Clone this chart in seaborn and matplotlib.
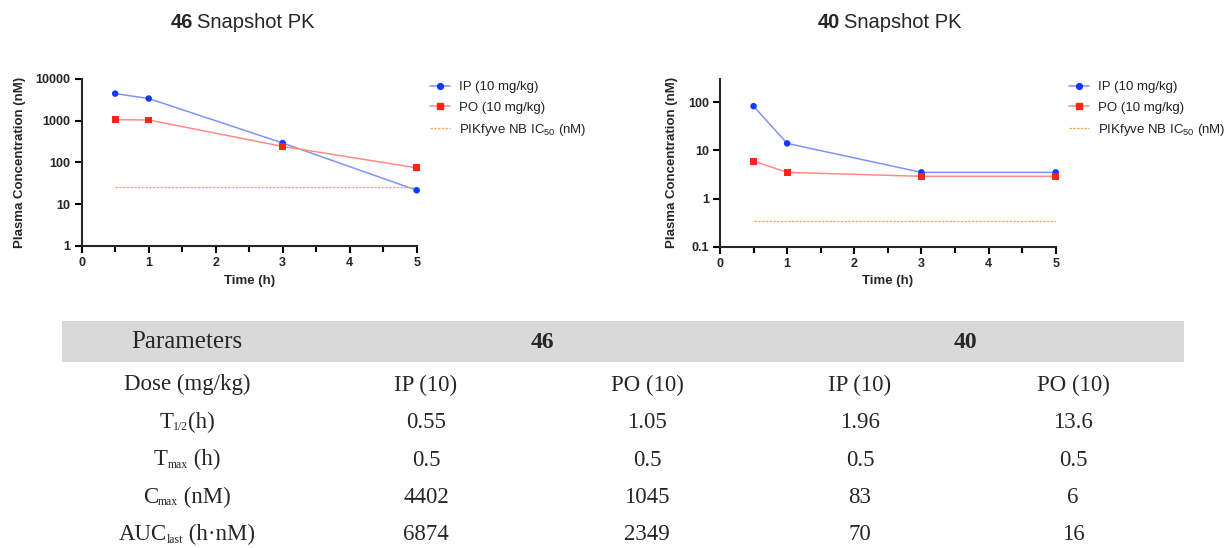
import matplotlib
matplotlib.use("Agg")
import matplotlib.pyplot as plt
import seaborn as sns
from matplotlib.lines import Line2D
from matplotlib.patches import Rectangle
from matplotlib.ticker import NullLocator, MultipleLocator

# --- data ---
time_h = [0.5, 1, 3, 5]

c46_ip = [4402, 3360, 290, 21.5]
c46_po = [1045, 1030, 240, 74]
c46_ic50 = 25.5

c40_ip = [83, 14, 3.5, 3.5]
c40_po = [6, 3.5, 2.9, 2.9]
c40_ic50 = 0.35

y46_ticks = [1, 10, 100, 1000, 10000]
y40_ticks = [0.1, 1, 10, 100]
x_ticks = [0, 1, 2, 3, 4, 5]

# table: row labels as (text, is_subscript) pieces
param_labels = [
    [("Dose (mg/kg)", False)],
    [("T", False), ("1/2", True), ("(h)", False)],
    [("T", False), ("max", True), (" (h)", False)],
    [("C", False), ("max", True), (" (nM)", False)],
    [("AUC", False), ("last", True), (" (h·nM)", False)],
]
col_46_ip = ["IP (10)", "0.55", "0.5", "4402", "6874"]
col_46_po = ["PO (10)", "1.05", "0.5", "1045", "2349"]
col_40_ip = ["IP (10)", "1.96", "0.5", "83", "70"]
col_40_po = ["PO (10)", "13.6", "0.5", "6", "16"]

# colours
ip_line, ip_mark = "#7f93fb", "#1238ff"
po_line, po_mark = "#ff8c84", "#ff2418"
ic_col = "#f7a94e"

sns.set_style("ticks")
plt.rcParams["font.family"] = ["Liberation Sans", "DejaVu Sans"]
plt.rcParams["axes.linewidth"] = 1.5

W, H = 1228, 548
fig = plt.figure(figsize=(W / 100, H / 100), dpi=100)


def px_axes(x0, x1, ytop, ybot):
    return fig.add_axes([x0 / W, (H - ybot) / H, (x1 - x0) / W, (ybot - ytop) / H])


def pk_panel(ax, ip, po, ic50, yticks, ylim):
    sns.lineplot(x=time_h, y=ip, color=ip_line, lw=1.1, ax=ax)
    sns.lineplot(x=time_h, y=po, color=po_line, lw=1.1, ax=ax)
    sns.lineplot(x=[time_h[0], time_h[-1]], y=[ic50, ic50], color=ic_col,
                 lw=0.9, linestyle=(0, (2, 1)), ax=ax)
    sns.scatterplot(x=time_h, y=ip, color=ip_mark, marker="o", s=22,
                    edgecolor="none", ax=ax, zorder=3, clip_on=False)
    sns.scatterplot(x=time_h, y=po, color=po_mark, marker="s", s=24,
                    edgecolor="none", ax=ax, zorder=3, clip_on=False)
    ax.set_yscale("log")
    ax.set_ylim(*ylim)
    ax.set_xlim(0, 5)
    ax.set_yticks(yticks, [f"{t:g}" for t in yticks])
    ax.yaxis.set_minor_locator(NullLocator())
    ax.set_xticks(x_ticks)
    ax.xaxis.set_minor_locator(MultipleLocator(0.5))
    ax.tick_params(which="both", direction="out", width=1.5, color="black")
    ax.tick_params(which="major", length=5, labelsize=9, pad=3)
    ax.tick_params(which="minor", length=4)
    for lab in ax.get_xticklabels() + ax.get_yticklabels():
        lab.set_fontweight("bold")
    ax.set_xlabel("Time (h)", fontsize=9.5, fontweight="bold", labelpad=4)
    ax.set_ylabel("Plasma Concentration (nM)", fontsize=9.5, fontweight="bold", labelpad=7)
    sns.despine(ax=ax)


def pk_legend(ax, x_px, top_px):
    handles = [
        Line2D([], [], color=ip_line, lw=1.1, marker="o", ms=4.2, mfc=ip_mark, mec=ip_mark),
        Line2D([], [], color=po_line, lw=1.1, marker="s", ms=4.5, mfc=po_mark, mec=po_mark),
        Line2D([], [], color=ic_col, lw=0.9, linestyle=(0, (2, 1))),
    ]
    labels = ["IP (10 mg/kg)", "PO (10 mg/kg)", r"PIKfyve NB IC$_{\mathregular{50}}$ (nM)"]
    leg = ax.legend(handles, labels, loc="upper left", bbox_to_anchor=(x_px / W, (H - top_px) / H),
                    bbox_transform=fig.transFigure, frameon=False, fontsize=9.5,
                    handlelength=1.5, handletextpad=0.7, labelspacing=0.62, borderpad=0,
                    borderaxespad=0)
    for t in leg.get_texts():
        t.set_color("#222222")


def pk_title(x_split, num):
    y = (H - 23) / H
    fig.text((x_split - 2) / W, y, num, ha="right", va="center", fontsize=14.5, fontweight="bold")
    fig.text((x_split + 2) / W, y, "Snapshot PK", ha="left", va="center", fontsize=14.5)


ax46 = px_axes(81.7, 416.7, 78.7, 246)
pk_panel(ax46, c46_ip, c46_po, c46_ic50, y46_ticks, (1, 10000))
pk_legend(ax46, 430, 81)
pk_title(195, "46")

ax40 = px_axes(720, 1055.7, 78.7, 246.7)
pk_panel(ax40, c40_ip, c40_po, c40_ic50, y40_ticks, (0.1, 309))
pk_legend(ax40, 1069, 81)
pk_title(841.5, "40")

# --- parameter table (axes in pixel units, y pointing down) ---
tab = fig.add_axes([0, 0, 1, 1])
tab.set_xlim(0, W)
tab.set_ylim(H, 0)
tab.axis("off")
tab.patch.set_alpha(0)

serif = ["Liberation Serif", "DejaVu Serif"]
body_fs, sub_fs = 16.5, 8.5
tab.add_patch(Rectangle((62, 321), 1122, 41, color="#d9d9d9", lw=0))
tab.text(187, 342, "Parameters", ha="center", va="center", fontsize=18, family=serif)
tab.text(542, 342, "46", ha="center", va="center", fontsize=17, fontweight="bold", family=serif)
tab.text(965, 342, "40", ha="center", va="center", fontsize=17, fontweight="bold", family=serif)

col_x = [187, 426, 647, 860, 1073]
columns = [col_46_ip, col_46_po, col_40_ip, col_40_po]
row_y0, row_step = 385, 37.5
for cx, col in zip(col_x[1:], columns):
    for i, txt in enumerate(col):
        tab.text(cx, row_y0 + i * row_step, txt, ha="center", va="center",
                 fontsize=body_fs, family=serif)

# row labels: lay out pieces by measured width so small subscripts sit on the baseline
renderer = fig.canvas.get_renderer()
ref = tab.text(0, 0, "Dose", fontsize=body_fs, family=serif, va="center")
ref_box = ref.get_window_extent(renderer)
ref.remove()
base_off = 0.26 * ref_box.height  # distance from centre down to baseline
for i, pieces in enumerate(param_labels):
    yc = row_y0 + i * row_step
    arts = []
    for txt, is_sub in pieces:
        t = tab.text(0, yc + base_off + (2.5 if is_sub else 0), txt, ha="left", va="baseline",
                     fontsize=sub_fs if is_sub else body_fs, family=serif)
        arts.append(t)
    widths = [a.get_window_extent(renderer).width for a in arts]
    x = col_x[0] - sum(widths) / 2
    for a, w in zip(arts, widths):
        a.set_x(x)
        x += w

fig.savefig("out.png", dpi=100)
